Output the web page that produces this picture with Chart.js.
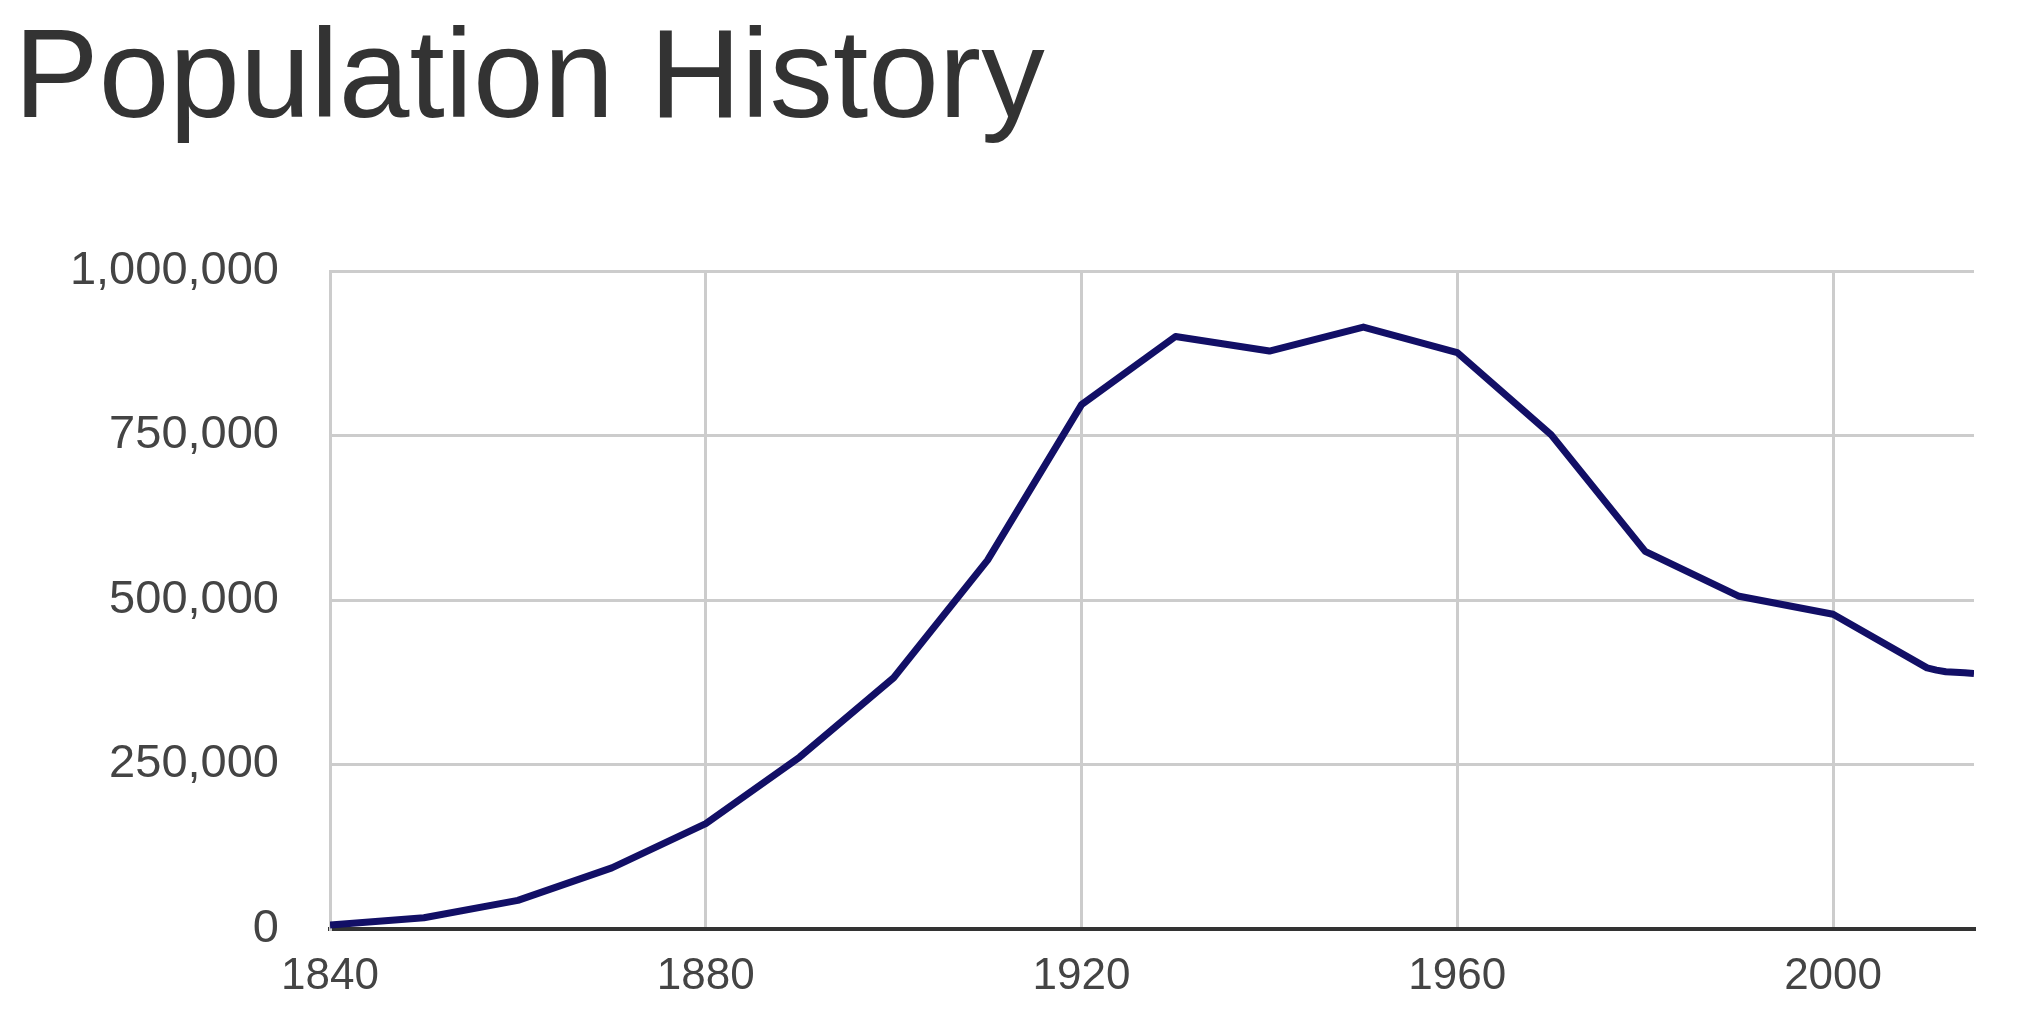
<!DOCTYPE html>
<html>
<head>
<meta charset="utf-8">
<script src="https://cdn.jsdelivr.net/npm/chart.js@4/dist/chart.umd.min.js"></script>
<style>
html,body{margin:0;padding:0;background:#fff;overflow:hidden}
#wrap{position:relative;width:2032px;height:1030px}
#title{position:absolute;left:14px;top:10px;margin:0;font:127px/1 "Liberation Sans",Arial,sans-serif;color:#333;font-weight:normal;white-space:nowrap}
canvas{position:absolute;left:0;top:0}
</style>
</head>
<body>
<div id="wrap">
<h1 id="title">Population History</h1>
<canvas id="c" width="2032" height="1030"></canvas>
</div>
<script>
// Population by census year (plus yearly estimates after 2010)
const years=[1840,1850,1860,1870,1880,1890,1900,1910,1920,1930,1940,1950,1960,1970,1980,1990,2000,2010,2011,2012,2013,2014,2015];
const population=[6071,17034,43417,92829,160146,261353,381768,560663,796841,900429,878336,914808,876050,750903,573822,505616,478403,396815,393500,391000,390100,389500,388100];
const xTicks=[1840,1880,1920,1960,2000];
const yTicks=[0,250000,500000,750000,1000000];

const FONT='"Liberation Sans", Arial, sans-serif';
const pts=years.map((y,i)=>({x:y,y:population[i]}));

new Chart(document.getElementById('c'),{
  type:'line',
  data:{datasets:[{data:pts,borderColor:'#120f66',borderWidth:7,pointRadius:0,tension:0,fill:false,borderJoinStyle:'round'}]},
  options:{
    responsive:false,animation:false,
    layout:{padding:{top:271,right:58,bottom:0,left:0}},
    plugins:{legend:{display:false},tooltip:{enabled:false},title:{display:false}},
    scales:{
      x:{type:'linear',min:1840,max:2015,
        afterFit:s=>{s.height=101},
        afterBuildTicks:s=>{s.ticks=xTicks.map(v=>({value:v}))},
        grid:{color:'#cccccc',lineWidth:3,drawTicks:false},
        border:{display:true,color:'#333333',width:4},
        ticks:{color:'#444444',font:{family:FONT,size:44},padding:21,maxRotation:0,autoSkip:false,callback:v=>String(v)}},
      y:{min:0,max:1000000,
        afterFit:s=>{s.width=330},
        afterBuildTicks:s=>{s.ticks=yTicks.map(v=>({value:v}))},
        grid:{color:'#cccccc',lineWidth:3,drawTicks:false},
        border:{display:true,color:'#cccccc',width:3},
        ticks:{color:'#444444',font:{family:FONT,size:47},padding:51,callback:v=>v.toLocaleString('en-US')}}
    }
  }
});
</script>
</body>
</html>
